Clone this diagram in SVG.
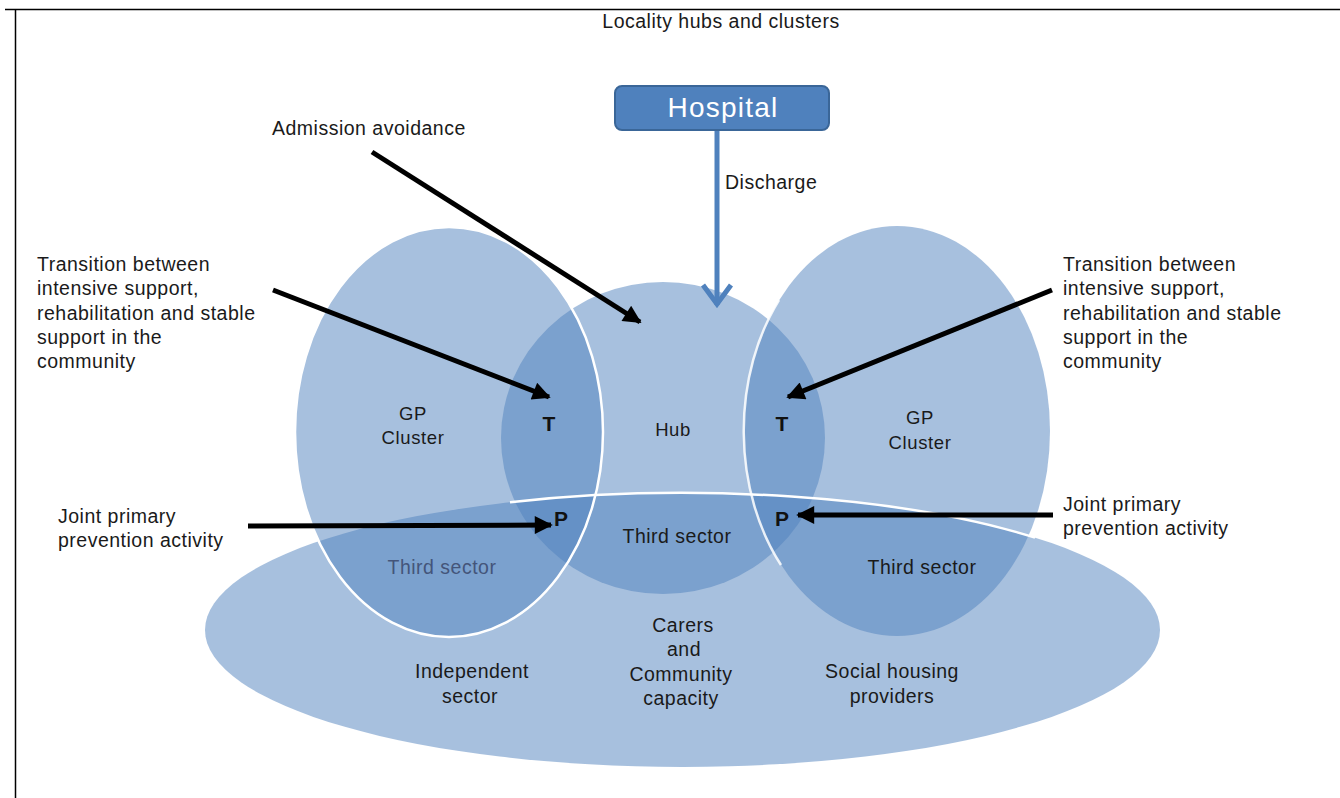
<svg xmlns="http://www.w3.org/2000/svg" width="1340" height="798" viewBox="0 0 1340 798">
<defs>
<style>
.lbl{font-family:"Liberation Sans",Arial,sans-serif;font-size:19.5px;letter-spacing:0.5px;fill:#1a1a1a}
.sm{font-size:18.5px;letter-spacing:0.6px}
.ctr{text-anchor:middle}
.big{font-family:"Liberation Sans",Arial,sans-serif;font-size:21px;font-weight:bold;fill:#111;text-anchor:middle}
.venn{fill:#4F81BD;fill-opacity:0.5;stroke:none}
.edge{fill:none;stroke:#fff;stroke-width:2.5}
.conn{stroke:#000;stroke-width:5;fill:none}
</style>
<marker id="ah" viewBox="0 0 10 10" refX="9" refY="5" markerWidth="4.2" markerHeight="3.6" orient="auto" markerUnits="strokeWidth">
<path d="M0,0 L10,5 L0,10 Z" fill="#000"/>
</marker>
</defs>
<rect x="0" y="0" width="1340" height="798" fill="#fff"/>
<g id="frame" stroke="#000" stroke-width="1.5">
<line x1="5" y1="9.5" x2="1340" y2="9.5"/>
<line x1="15.5" y1="9" x2="15.5" y2="798"/>
</g>
<g id="title"><text class="lbl ctr" x="721" y="28">Locality hubs and clusters</text></g>
<g id="community">
<ellipse class="venn" cx="682.5" cy="630" rx="477.5" ry="137"/>
</g>
<g id="gp-cluster-left">
<ellipse class="venn" cx="449" cy="432" rx="154" ry="205"/>
</g>
<g id="hub">
<ellipse class="venn" cx="663" cy="438" rx="162" ry="156"/>
</g>
<g id="gp-cluster-right">
<ellipse class="venn" cx="897" cy="431" rx="153" ry="205"/>
</g>
<g id="outlines">
<path class="edge" d="M510,502.2 A477.5,137 0 0,1 1035,537.6"/>
<path class="edge" stroke-opacity="0.85" stroke-width="2" d="M779,300 A153,205 0 0,0 781,565"/>
<ellipse class="edge" cx="449" cy="432" rx="154" ry="205"/>
</g>
<g id="hospital">
<rect x="615" y="86" width="214" height="44" rx="7" fill="#4F81BD" stroke="#3A6698" stroke-width="2"/>
<text x="723" y="117" font-family="Liberation Sans, Arial, sans-serif" font-size="28" letter-spacing="1.2" fill="#fff" text-anchor="middle">Hospital</text>
</g>
<g id="connectors">
<line x1="717" y1="131" x2="717" y2="305" stroke="#4F81BD" stroke-width="5"/>
<polyline points="703,285 717,304 731,285" fill="none" stroke="#4F81BD" stroke-width="5" stroke-linejoin="miter"/>
<line class="conn" x1="372" y1="152" x2="640" y2="322" marker-end="url(#ah)"/>
<line class="conn" x1="273" y1="290" x2="549" y2="397" marker-end="url(#ah)"/>
<line class="conn" x1="1052" y1="290" x2="788" y2="397" marker-end="url(#ah)"/>
<line class="conn" x1="248" y1="526" x2="551" y2="525" marker-end="url(#ah)"/>
<line class="conn" x1="1053" y1="515" x2="798" y2="515" marker-end="url(#ah)"/>
</g>
<g id="label-discharge"><text class="lbl" x="725" y="189">Discharge</text></g>
<g id="label-admission"><text class="lbl" x="272" y="135">Admission avoidance</text></g>
<g id="label-transition-left">
<text class="lbl"><tspan x="37" y="271">Transition between</tspan><tspan x="37" y="295">intensive support,</tspan><tspan x="37" y="320">rehabilitation  and stable</tspan><tspan x="37" y="344">support in the</tspan><tspan x="37" y="368">community</tspan></text>
</g>
<g id="label-transition-right">
<text class="lbl"><tspan x="1063" y="271">Transition between</tspan><tspan x="1063" y="295">intensive support,</tspan><tspan x="1063" y="320">rehabilitation  and stable</tspan><tspan x="1063" y="344">support in the</tspan><tspan x="1063" y="368">community</tspan></text>
</g>
<g id="label-joint-left">
<text class="lbl"><tspan x="58" y="523">Joint primary</tspan><tspan x="58" y="547">prevention activity</tspan></text>
</g>
<g id="label-joint-right">
<text class="lbl"><tspan x="1063" y="511">Joint primary</tspan><tspan x="1063" y="535">prevention activity</tspan></text>
</g>
<g id="text-gp-left">
<text class="lbl sm ctr"><tspan x="413" y="420">GP</tspan><tspan x="413" y="444">Cluster</tspan></text>
</g>
<g id="text-gp-right">
<text class="lbl sm ctr"><tspan x="920" y="424">GP</tspan><tspan x="920" y="449">Cluster</tspan></text>
</g>
<g id="markers-tp">
<text class="big" x="549" y="431">T</text>
<text class="big" x="782" y="431">T</text>
<text class="big" x="561" y="526">P</text>
<text class="big" x="782" y="526">P</text>
</g>
<g id="text-hub"><text class="lbl sm ctr" x="673" y="436">Hub</text></g>
<g id="text-third-center"><text class="lbl ctr" x="677" y="543">Third sector</text></g>
<g id="text-third-left"><text class="lbl ctr" x="442" y="574" style="fill:#44557a">Third sector</text></g>
<g id="text-third-right"><text class="lbl ctr" x="922" y="574">Third sector</text></g>
<g id="text-carers">
<text class="lbl ctr"><tspan x="683" y="632">Carers</tspan><tspan x="684" y="656">and</tspan><tspan x="681" y="681">Community</tspan><tspan x="681" y="705">capacity</tspan></text>
</g>
<g id="text-independent">
<text class="lbl ctr"><tspan x="472" y="678">Independent</tspan><tspan x="470" y="703">sector</tspan></text>
</g>
<g id="text-social">
<text class="lbl ctr"><tspan x="892" y="678">Social housing</tspan><tspan x="892" y="703">providers</tspan></text>
</g>
</svg>
